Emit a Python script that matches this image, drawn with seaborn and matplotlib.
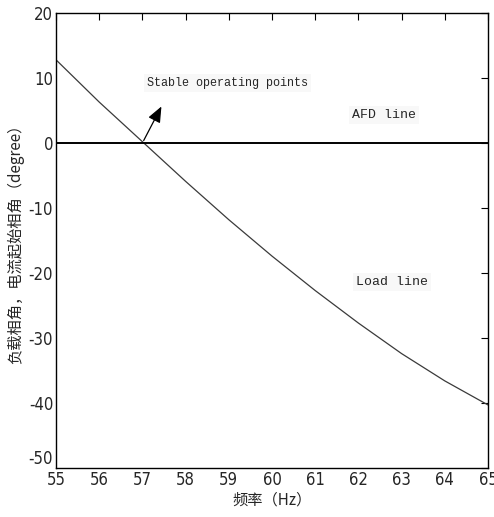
import matplotlib
matplotlib.use("Agg")
import matplotlib.pyplot as plt
import seaborn as sns
import numpy as np
import pandas as pd
from matplotlib import font_manager

freq = [55, 56, 57, 58, 59, 60, 61, 62, 63, 64, 65]
load_phase = [12.8, 6.3, 0.2, -5.9, -11.8, -17.4, -22.7, -27.7, -32.4, -36.6, -40.3]
afd_freq = [55, 65]
afd_phase = [0, 0]
xticks = [55, 56, 57, 58, 59, 60, 61, 62, 63, 64, 65]
yticks = [-50, -40, -30, -20, -10, 0, 10, 20]

sns.set_style("white")
plt.rcParams['font.family'] = ['Noto Sans CJK SC', 'DejaVu Sans']

fig = plt.figure(figsize=(4.94, 5.17), dpi=100)
ax = fig.add_axes([56/494, 1-468/517, (488-56)/494, (468-13)/517])

df = pd.DataFrame({"f": freq, "p": load_phase})
sns.lineplot(data=df, x="f", y="p", ax=ax, color="#3a3a3a", linewidth=0.9)
sns.lineplot(x=afd_freq, y=afd_phase, ax=ax, color="black", linewidth=1.4)

ax.set_xlim(55, 65)
ax.set_ylim(-50, 20)
ax.set_xticks(xticks)
ax.set_yticks(yticks)
tick_kw = dict(family="DejaVu Sans", fontstretch="condensed", fontsize=12)
ax.set_xticklabels([str(t) for t in xticks], **tick_kw)
ax.set_yticklabels([str(t) for t in yticks], **tick_kw)
ax.tick_params(direction="in", top=True, right=True, length=5, width=0.8, color="black")
ax.tick_params(axis="x", pad=2)
ax.tick_params(axis="y", pad=2)
ax.get_yticklabels()[0].set_va("bottom")
for s in ax.spines.values():
    s.set_color("black")
    s.set_linewidth(1.0)

ax.set_xlabel("频率（Hz）", fontsize=11, labelpad=2)
ax.set_ylabel("负载相角，电流起始相角（degree）", fontsize=11, labelpad=3)

mono = "Liberation Mono"
bb = dict(facecolor="#f8f8f8", edgecolor="none", pad=2)
ax.annotate("Stable operating points", xy=(57.45, 5.7), xytext=(57.1, 9.2),
            family=mono, fontsize=8.5, va="center", ha="left", bbox=bb)
ax.annotate("", xy=(57.47, 6.0), xytext=(57.0, 0.0),
            arrowprops=dict(arrowstyle="-|>,head_length=0.6,head_width=0.25", color="black",
                            lw=0.9, mutation_scale=16))
ax.text(61.85, 4.3, "AFD line", family=mono, fontsize=9.5, va="center", ha="left", bbox=bb)
ax.text(61.95, -21.4, "Load line", family=mono, fontsize=9.5, va="center", ha="left", bbox=bb)

fig.savefig("out.png", dpi=100)
